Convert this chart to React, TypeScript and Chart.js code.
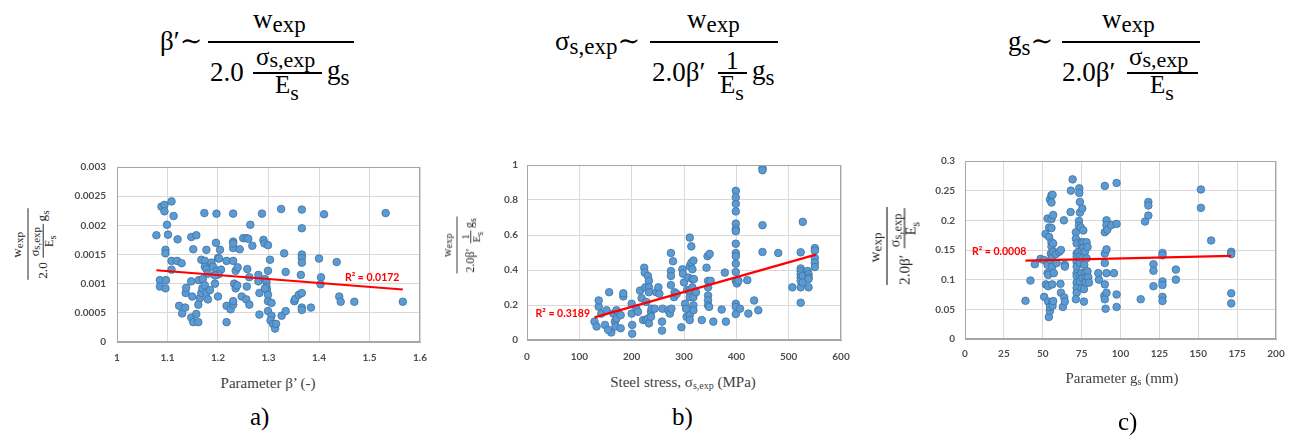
import React, { useEffect, useRef } from 'react';
import { Chart, registerables } from 'chart.js';

Chart.register(...registerables);

const SERIF = '"Liberation Serif", "Times New Roman", "DejaVu Serif", serif';

// ---------------- Panel a: parameter beta' ----------------
const betaA = [1.078,1.088,1.094,1.094,1.108,1.112,1.099,1.101,1.12,1.096,1.096,1.108,1.108,1.119,1.128,1.085,1.097,1.085,1.096,1.123,1.129,1.136,1.137,1.135,1.147,1.157,1.151,1.147,1.149,1.147,1.151,1.157,1.161,1.164,1.161,1.167,1.169,1.162,1.167,1.174,1.173,1.177,1.174,1.177,1.18,1.17,1.174,1.177,1.18,1.184,1.187,1.19,1.197,1.196,1.197,1.2,1.204,1.202,1.206,1.194,1.2,1.201,1.194,1.217,1.217,1.217,1.225,1.23,1.23,1.23,1.23,1.23,1.23,1.23,1.232,1.235,1.235,1.239,1.238,1.243,1.247,1.25,1.256,1.26,1.256,1.262,1.258,1.257,1.262,1.264,1.268,1.28,1.28,1.282,1.282,1.287,1.29,1.292,1.299,1.293,1.296,1.296,1.297,1.299,1.299,1.299,1.303,1.299,1.306,1.304,1.306,1.309,1.313,1.315,1.293,1.325,1.326,1.331,1.334,1.334,1.351,1.353,1.36,1.366,1.366,1.366,1.366,1.366,1.364,1.366,1.366,1.366,1.384,1.4,1.404,1.403,1.41,1.435,1.44,1.443,1.47,1.532,1.566];
const ratioA = [0.00183,0.00232,0.00235,0.00224,0.00241,0.00216,0.00201,0.00184,0.00176,0.00158,0.00152,0.00124,0.00139,0.00139,0.00135,0.00106,0.00106,0.00095,0.00092,0.00062,0.00049,0.00084,0.00093,0.00059,0.0018,0.00183,0.00159,0.00104,0.00078,0.00042,0.00034,0.00048,0.00034,0.00075,0.00064,0.00084,0.00092,0.00106,0.00141,0.00139,0.00221,0.00158,0.00129,0.00125,0.00117,0.00108,0.00097,0.00084,0.00073,0.00089,0.00136,0.00129,0.00122,0.0017,0.0022,0.00144,0.00158,0.00143,0.00124,0.001,0.00078,0.00116,0.00114,0.00139,0.00062,0.00034,0.00056,0.00139,0.00172,0.0022,0.00161,0.00169,0.00064,0.0007,0.001,0.00122,0.00092,0.00128,0.00097,0.00159,0.00078,0.00178,0.00178,0.00177,0.00073,0.00064,0.00125,0.00095,0.00111,0.00201,0.00165,0.00115,0.00104,0.00084,0.00047,0.0022,0.00175,0.00169,0.00166,0.00108,0.00103,0.00095,0.00089,0.00122,0.00081,0.0007,0.00141,0.00053,0.00045,0.00037,0.00067,0.00031,0.00023,0.00031,0.00092,0.00228,0.00045,0.00152,0.00053,0.0012,0.0007,0.00074,0.00081,0.00227,0.00195,0.0015,0.00144,0.00136,0.00115,0.00084,0.00059,0.00055,0.00059,0.00143,0.00111,0.00099,0.00219,0.00137,0.00078,0.00069,0.00069,0.00221,0.00069];
const trendXA = [1.078, 1.566];
const trendYA = [0.00123, 0.0009];
const xTicksA = ['1', '1.1', '1.2', '1.3', '1.4', '1.5', '1.6'];
const yTicksA = ['0', '0.0005', '0.001', '0.0015', '0.002', '0.0025', '0.003'];
const r2TextA = 'R² = 0.0172';

// ---------------- Panel b: steel stress ----------------
const stressB = [129,133,137,137,142,149,152,157,161,155,165,168,169,171,171,179,179,184,184,200,200,201,201,209,212,216,219,222,224,225,226,228,228,231,233,231,233,233,233,237,237,238,244,247,251,253,258,258,259,270,273,275,275,275,275,276,279,281,282,286,295,297,298,300,302,304,305,306,308,311,311,311,311,311,311,314,314,316,316,316,318,318,318,318,319,323,334,343,345,346,346,346,346,346,348,349,351,356,372,378,380,399,399,399,399,399,399,399,399,399,399,399,399,399,401,399,399,399,404,407,421,423,434,442,450,450,450,450,480,507,523,523,523,523,523,523,523,523,527,527,527,536,538,538,538,538,550,550,550,550,550];
const ratioB = [0.105,0.077,0.19,0.226,0.151,0.086,0.17,0.273,0.043,0.058,0.151,0.105,0.077,0.123,0.17,0.142,0.067,0.249,0.267,0.207,0.151,0.086,0.036,0.179,0.161,0.282,0.239,0.114,0.413,0.385,0.301,0.217,0.114,0.123,0.095,0.366,0.338,0.301,0.273,0.161,0.133,0.179,0.179,0.273,0.301,0.264,0.105,0.054,0.179,0.17,0.151,0.497,0.394,0.366,0.314,0.179,0.45,0.245,0.273,0.264,0.073,0.404,0.379,0.329,0.207,0.179,0.133,0.286,0.357,0.585,0.422,0.282,0.245,0.142,0.114,0.535,0.441,0.404,0.348,0.301,0.454,0.245,0.198,0.17,0.348,0.273,0.114,0.413,0.479,0.338,0.301,0.254,0.226,0.198,0.189,0.492,0.338,0.105,0.174,0.385,0.105,0.852,0.815,0.778,0.735,0.665,0.634,0.622,0.55,0.497,0.479,0.436,0.389,0.338,0.323,0.207,0.189,0.148,0.338,0.179,0.342,0.151,0.226,0.17,0.983,0.97,0.656,0.503,0.497,0.301,0.501,0.409,0.394,0.376,0.357,0.338,0.301,0.213,0.675,0.366,0.329,0.394,0.376,0.357,0.301,0.348,0.525,0.51,0.469,0.441,0.417];
const trendXB = [129, 552];
const trendYB = [0.129, 0.488];
const xTicksB = ['0', '100', '200', '300', '400', '500', '600'];
const yTicksB = ['0', '0.2', '0.4', '0.6', '0.8', '1'];
const r2TextB = 'R² = 0.3189';

// ---------------- Panel c: parameter g_s ----------------
const gsC = [38.9,42.1,44.9,48.6,50.9,50.9,51.8,52,53.1,53.1,53.1,53.5,53.5,53.5,53.9,54.1,54.1,54.6,54.6,54.6,55.2,55.2,55.6,55.6,55.6,55.6,55.6,55.6,56.1,56.1,56.1,56.1,56.3,56.7,56.3,56.7,56.7,57.1,56.7,58.4,58.9,60.6,61.4,61.7,61.7,62.9,63.6,64.2,64.2,63.8,64.2,67.9,68.1,69.2,71.3,71.3,71.8,71.8,71.8,71.8,71.8,71.8,71.8,71.8,71.8,71.8,71.3,72.8,73.3,73.3,73.5,73.5,73.9,73.9,73.9,73.9,73.9,73.9,74.5,75,75,75,75,75.4,75.4,75.6,76.1,76.1,76.1,76.5,76.5,76.7,77.1,77.1,77.6,77.6,78.2,78.2,78.8,78.8,79.3,79.7,85.7,86.1,89.9,89.9,89.9,89.9,89.9,89.6,89.9,90.4,91,91,91,91,91,91.5,94.1,95.8,97.5,97.5,97.5,97.5,113,115.8,117.9,117.9,117.9,121.2,121.2,121.2,127,127,127,127,127,127,135.6,135.6,151.7,151.7,158.3,171.2,171.2,171.2,171.2];
const ratioC = [0.0644,0.0985,0.126,0.135,0.133,0.071,0.177,0.092,0.203,0.125,0.111,0.108,0.089,0.063,0.037,0.172,0.188,0.235,0.047,0.054,0.144,0.133,0.242,0.23,0.202,0.187,0.163,0.156,0.139,0.122,0.092,0.062,0.056,0.209,0.243,0.161,0.147,0.111,0.064,0.143,0.128,0.147,0.093,0.15,0.078,0.054,0.2,0.125,0.122,0.07,0.063,0.214,0.25,0.269,0.18,0.169,0.161,0.144,0.139,0.13,0.122,0.111,0.106,0.095,0.086,0.078,0.067,0.147,0.199,0.191,0.254,0.246,0.213,0.231,0.139,0.128,0.108,0.097,0.188,0.163,0.15,0.111,0.086,0.22,0.136,0.103,0.183,0.163,0.154,0.063,0.084,0.125,0.147,0.111,0.103,0.095,0.163,0.136,0.155,0.114,0.104,0.095,0.111,0.1,0.258,0.18,0.144,0.128,0.092,0.073,0.067,0.051,0.2,0.192,0.151,0.111,0.078,0.184,0.192,0.111,0.263,0.194,0.075,0.054,0.067,0.198,0.231,0.225,0.208,0.126,0.115,0.089,0.145,0.141,0.097,0.091,0.071,0.064,0.117,0.1,0.252,0.221,0.166,0.147,0.143,0.077,0.06];
const trendXC = [38.9, 171.2];
const trendYC = [0.132, 0.14];
const xTicksC = ['0', '25', '50', '75', '100', '125', '150', '175', '200'];
const yTicksC = ['0', '0.05', '0.1', '0.15', '0.2', '0.25', '0.3'];
const r2TextC = 'R² = 0.0008';

// ---------------- formula layout ----------------
type Piece = { t: string; sub?: string; post?: string; x: number; y: number; size: number; subSize?: number; drop?: number };
type Bar = { x: number; y: number; w: number; h: number };
type Frac = { w: number; pieces: Piece[]; bars: Bar[] };

const FRAC_A: Frac = {
  w: 146,
  pieces: [
    { t: 'w', sub: 'exp', x: 45, y: -13, size: 27, subSize: 23, drop: 4 },
    { t: '2.0', x: 2, y: 40, size: 27 },
    { t: 'σ', sub: 's,exp', x: 48, y: 23, size: 25, subSize: 22, drop: 2 },
    { t: 'E', sub: 's', x: 67, y: 51, size: 25, subSize: 22, drop: 7 },
    { t: 'g', sub: 's', x: 119, y: 38, size: 27, subSize: 23, drop: 6 },
  ],
  bars: [{ x: 45, y: 31, w: 69, h: 1.5 }],
};
const FRAC_B: Frac = {
  w: 128,
  pieces: [
    { t: 'w', sub: 'exp', x: 37, y: -13, size: 27, subSize: 23, drop: 4 },
    { t: '2.0β′', x: 2, y: 40, size: 27 },
    { t: '1', x: 76, y: 27, size: 25 },
    { t: 'E', sub: 's', x: 70, y: 51, size: 25, subSize: 22, drop: 7 },
    { t: 'g', sub: 's', x: 102, y: 38, size: 27, subSize: 23, drop: 6 },
  ],
  bars: [{ x: 68, y: 31, w: 29, h: 1.5 }],
};
const FRAC_C: Frac = {
  w: 138,
  pieces: [
    { t: 'w', sub: 'exp', x: 40, y: -13, size: 27, subSize: 23, drop: 4 },
    { t: '2.0β′', x: 0, y: 40, size: 27 },
    { t: 'σ', sub: 's,exp', x: 67, y: 23, size: 25, subSize: 22, drop: 2 },
    { t: 'E', sub: 's', x: 88, y: 51, size: 25, subSize: 22, drop: 7 },
  ],
  bars: [{ x: 65, y: 31, w: 71, h: 1.5 }],
};

function Txt({ p, color }: { p: Piece; color: string }) {
  return (
    <div
      style={{
        position: 'absolute',
        left: p.x,
        top: p.y - 0.8375 * p.size,
        fontFamily: SERIF,
        fontSize: p.size,
        lineHeight: `${p.size}px`,
        whiteSpace: 'nowrap',
        color,
      }}
    >
      {p.t}
      {p.sub && (
        <span style={{ fontFamily: SERIF, fontSize: p.subSize, lineHeight: `${p.subSize}px`, verticalAlign: -(p.drop ?? 4) }}>{p.sub}</span>
      )}
      {p.post}
    </div>
  );
}

function FracBody({ f, color }: { f: Frac; color: string }) {
  return (
    <>
      <div style={{ position: 'absolute', left: 0, top: -1, width: f.w, height: 2, background: color }} />
      {f.bars.map((b, i) => (
        <div key={'b' + i} style={{ position: 'absolute', left: b.x, top: b.y - b.h / 2, width: b.w, height: b.h, background: color }} />
      ))}
      {f.pieces.map((p, i) => (
        <Txt key={'p' + i} p={p} color={color} />
      ))}
    </>
  );
}

function TopFormula({ lhs, f, barLeft, barY }: { lhs: Piece; f: Frac; barLeft: number; barY: number }) {
  return (
    <>
      <div style={{ position: 'absolute', left: 0, top: barY - 42 }}>
        <Txt p={lhs} color="#000" />
      </div>
      <div style={{ position: 'absolute', left: barLeft, top: barY }}>
        <FracBody f={f} color="#000" />
      </div>
    </>
  );
}

function YLabel({ f, cx, cy, k }: { f: Frac; cx: number; cy: number; k: number }) {
  return (
    <div
      style={{
        position: 'absolute',
        left: cx,
        top: cy,
        width: 0,
        height: 0,
        transform: `rotate(-90deg) scale(${k})`,
        transformOrigin: '0 0',
      }}
    >
      <div style={{ position: 'absolute', left: -f.w / 2, top: 0 }}>
        <FracBody f={f} color="#262626" />
      </div>
    </div>
  );
}

// ---------------- chart panels ----------------
type PanelProps = {
  left: number; top: number; width: number; height: number;
  xs: number[]; ys: number[]; tx: number[]; ty: number[];
  xMin: number; xMax: number; xStep: number; yMin: number; yMax: number; yStep: number;
  xLabels: string[]; yLabels: string[];
  yAxisW: number; xAxisH: number; padTop: number; padRight: number; yPad: number; xPad: number;
  r2Text: string; r2X: number; r2Y: number; r2Align: CanvasTextAlign;
};

const TICK_FONT = { family: 'Lato', weight: 'bold' as const, size: 10 };

function ScatterPanel(p: PanelProps) {
  const ref = useRef<HTMLCanvasElement>(null);
  useEffect(() => {
    if (!ref.current) return;
    const frame = {
      id: 'frameR2',
      afterDraw(chart: any) {
        const { ctx, chartArea: a, scales } = chart;
        ctx.save();
        ctx.strokeStyle = '#a6a6a6';
        ctx.lineWidth = 1;
        ctx.strokeRect(Math.round(a.left) + 0.5, Math.round(a.top) + 0.5, Math.round(a.right - a.left) - 1, Math.round(a.bottom - a.top) - 1);
        ctx.fillStyle = '#ff0000';
        ctx.font = 'bold 10.5px Lato';
        ctx.textAlign = p.r2Align;
        ctx.textBaseline = 'middle';
        ctx.fillText(p.r2Text, scales.x.getPixelForValue(p.r2X), scales.y.getPixelForValue(p.r2Y));
        ctx.restore();
      },
    };
    const chart = new Chart(ref.current, {
      type: 'scatter',
      data: {
        datasets: [
          {
            data: p.tx.map((x, i) => ({ x, y: p.ty[i] })),
            showLine: true,
            borderColor: '#ff0000',
            backgroundColor: '#ff0000',
            borderWidth: 2.2,
            pointRadius: 0,
            order: 0,
          },
          {
            data: p.xs.map((x, i) => ({ x, y: p.ys[i] })),
            backgroundColor: '#5b9bd5',
            borderColor: '#41719c',
            borderWidth: 0.8,
            pointRadius: 3.8,
            order: 1,
          },
        ],
      },
      options: {
        responsive: false,
        animation: false,
        devicePixelRatio: 1,
        events: [],
        layout: { padding: { top: p.padTop, right: p.padRight, left: 0, bottom: 0 } },
        plugins: { legend: { display: false }, tooltip: { enabled: false } },
        scales: {
          x: {
            type: 'linear',
            min: p.xMin,
            max: p.xMax,
            afterFit: (s: any) => { s.height = p.xAxisH; },
            grid: { color: '#d9d9d9', drawTicks: false },
            border: { color: '#a6a6a6' },
            ticks: {
              stepSize: p.xStep,
              autoSkip: false,
              maxRotation: 0,
              padding: p.xPad,
              color: '#4d4d4d',
              font: TICK_FONT,
              callback: (_v: any, i: number) => p.xLabels[i],
            },
          },
          y: {
            type: 'linear',
            min: p.yMin,
            max: p.yMax,
            afterFit: (s: any) => { s.width = p.yAxisW; },
            grid: { color: '#d9d9d9', drawTicks: false },
            border: { color: '#a6a6a6' },
            ticks: {
              stepSize: p.yStep,
              autoSkip: false,
              padding: p.yPad,
              color: '#4d4d4d',
              font: TICK_FONT,
              callback: (_v: any, i: number) => p.yLabels[i],
            },
          },
        },
      } as any,
      plugins: [frame],
    });
    return () => chart.destroy();
  }, []);
  return (
    <canvas
      ref={ref}
      width={p.width}
      height={p.height}
      style={{ position: 'absolute', left: p.left, top: p.top, width: p.width, height: p.height, display: 'block' }}
    />
  );
}

function XTitle({ cx, cy, children }: { cx: number; cy: number; children: React.ReactNode }) {
  return (
    <div
      style={{
        position: 'absolute',
        left: cx,
        top: cy,
        transform: 'translate(-50%, -50%)',
        fontFamily: SERIF,
        fontSize: 15,
        lineHeight: '18px',
        color: '#404040',
        whiteSpace: 'nowrap',
      }}
    >
      {children}
    </div>
  );
}

function PanelTag({ x, base, text }: { x: number; base: number; text: string }) {
  const size = 25;
  return (
    <div style={{ position: 'absolute', left: x, top: base - 0.8375 * size, fontFamily: SERIF, fontSize: size, lineHeight: `${size}px`, color: '#000' }}>
      {text}
    </div>
  );
}

export default function App() {
  const sub = (s: string) => <span style={{ fontSize: 10, verticalAlign: -2 }}>{s}</span>;
  return (
    <div style={{ position: 'fixed', left: 0, top: 0, width: 1294, height: 438, background: '#fff', overflow: 'hidden' }}>
      <TopFormula lhs={{ t: 'β′∼', x: 160, y: 51, size: 27 }} f={FRAC_A} barLeft={208} barY={42} />
      <TopFormula lhs={{ t: 'σ', sub: 's,exp', post: '∼', x: 555, y: 51, size: 27, subSize: 23, drop: 4 }} f={FRAC_B} barLeft={650} barY={42} />
      <TopFormula lhs={{ t: 'g', sub: 's', post: '∼', x: 1008, y: 51, size: 27, subSize: 23, drop: 5 }} f={FRAC_C} barLeft={1062} barY={42} />

      <ScatterPanel
        left={60} top={150} width={380} height={220}
        xs={betaA} ys={ratioA} tx={trendXA} ty={trendYA}
        xMin={1} xMax={1.6} xStep={0.1} yMin={0} yMax={0.003} yStep={0.0005}
        xLabels={xTicksA} yLabels={yTicksA}
        yAxisW={57} xAxisH={28} padTop={11} padRight={20} yPad={11} xPad={10}
        r2Text={r2TextA} r2X={1.4515} r2Y={0.00111} r2Align="left"
      />
      <ScatterPanel
        left={480} top={150} width={385} height={220}
        xs={stressB} ys={ratioB} tx={trendXB} ty={trendYB}
        xMin={0} xMax={600} xStep={100} yMin={0} yMax={1} yStep={0.2}
        xLabels={xTicksB} yLabels={yTicksB}
        yAxisW={47} xAxisH={30} padTop={12} padRight={24} yPad={9} xPad={11}
        r2Text={r2TextB} r2X={120.4} r2Y={0.1517} r2Align="right"
      />
      <ScatterPanel
        left={915} top={145} width={379} height={225}
        xs={gsC} ys={ratioC} tx={trendXC} ty={trendYC}
        xMin={0} xMax={200} xStep={25} yMin={0} yMax={0.3} yStep={0.05}
        xLabels={xTicksC} yLabels={yTicksC}
        yAxisW={50} xAxisH={31} padTop={12} padRight={18} yPad={10} xPad={9}
        r2Text={r2TextC} r2X={4.5} r2Y={0.1467} r2Align="left"
      />

      <YLabel f={FRAC_A} cx={27.5} cy={244} k={0.49} />
      <YLabel f={FRAC_B} cx={457} cy={245} k={0.445} />
      <YLabel f={FRAC_C} cx={887} cy={246} k={0.565} />

      <XTitle cx={268} cy={383}>Parameter β’ (-)</XTitle>
      <XTitle cx={683} cy={384}>Steel stress, σ{sub('s,exp')} (MPa)</XTitle>
      <XTitle cx={1122} cy={380}>Parameter g{sub('s')} (mm)</XTitle>

      <PanelTag x={250} base={425} text="a)" />
      <PanelTag x={672} base={425} text="b)" />
      <PanelTag x={1118} base={430} text="c)" />
    </div>
  );
}
